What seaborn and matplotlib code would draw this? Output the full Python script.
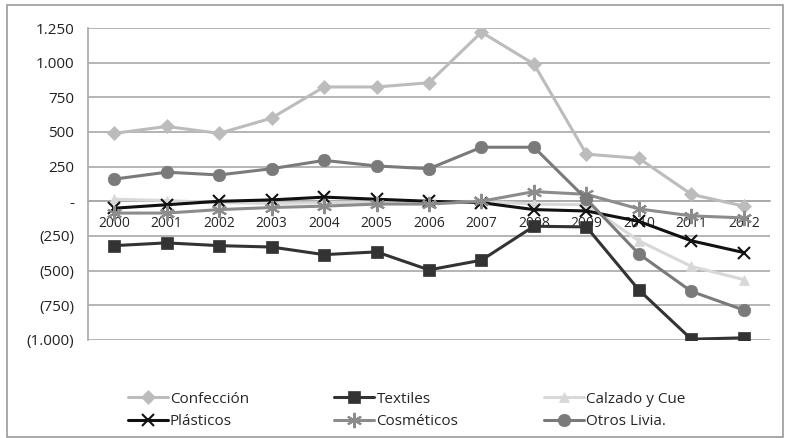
import numpy as np
import pandas as pd
import matplotlib
matplotlib.use('Agg')
import matplotlib.pyplot as plt
import seaborn as sns
from matplotlib.patches import Rectangle

years = list(range(2000, 2013))

confeccion = [490, 540, 490, 600, 825, 825, 855, 1220, 990, 340, 310, 50, -35]
textiles = [-320, -300, -320, -330, -385, -365, -495, -425, -180, -185, -640, -995, -985]
calzado = [15, 5, -10, -15, -10, -5, -5, 0, -20, -25, -285, -470, -565]
plasticos = [-50, -25, 0, 10, 30, 15, 0, -10, -60, -70, -145, -285, -370]
cosmeticos = [-85, -85, -60, -45, -35, -20, -20, 0, 70, 50, -55, -105, -120]
otros = [160, 210, 190, 235, 295, 255, 235, 390, 390, 15, -380, -650, -785]

series = [
    ('Confección', confeccion, '#bcbcbc', 'D', 7),
    ('Textiles', textiles, '#333333', 's', 8),
    ('Calzado y Cue', calzado, '#d8d8d8', '^', 7),
    ('Plásticos', plasticos, '#111111', 'x', 9),
    ('Cosméticos', cosmeticos, '#8c8c8c', (6, 2, 0), 11),
    ('Otros Livia.', otros, '#7a7a7a', 'o', 9),
]

yticks = [1250, 1000, 750, 500, 250, 0, -250, -500, -750, -1000]
ytick_labels = ['1.250', '1.000', '750', '500', '250', '-', '(250)', '(500)', '(750)', '(1.000)']

sns.set_style('white')
plt.rcParams['font.family'] = ['Open Sans', 'DejaVu Sans']

fig = plt.figure(figsize=(7.85, 4.38), dpi=100)
ax = fig.add_axes([0.112, 0.224, 0.869, 0.712])

for name, vals, color, marker, ms in series:
    df = pd.DataFrame({'year': years, 'value': vals})
    sns.lineplot(data=df, x='year', y='value', ax=ax, color=color, marker=marker,
                 markersize=ms, linewidth=2.2, label=name,
                 markeredgecolor=color, markeredgewidth=1.5 if marker in ('x', (6, 2, 0)) else 0.5,
                 zorder=3)

ax.set_xlim(1999.5, 2012.5)
ax.set_ylim(-1000, 1250)
ax.set_yticks(yticks)
ax.set_yticklabels(ytick_labels, fontsize=11, color='#222222')
ax.set_xticks(years)
ax.set_xticklabels([str(y) for y in years], fontsize=11, color='#222222')
ax.set_xticks(np.arange(1999.5, 2013, 1), minor=True)
ax.grid(axis='y', color='#a8a8a8', linewidth=1.2, zorder=0)
ax.grid(axis='x', visible=False)
ax.set_xlabel('')
ax.set_ylabel('')

for s in ['top', 'right']:
    ax.spines[s].set_visible(False)
ax.spines['left'].set_color('#a8a8a8')
ax.spines['left'].set_linewidth(1.2)
ax.spines['bottom'].set_position(('data', 0))
ax.spines['bottom'].set_color('#a8a8a8')
ax.spines['bottom'].set_linewidth(1.2)
ax.tick_params(axis='x', which='major', length=0, pad=10.5)
ax.tick_params(axis='x', which='minor', length=4, color='#a8a8a8', direction='out')
ax.tick_params(axis='y', length=4, color='#a8a8a8', pad=6)

handles, labels = ax.get_legend_handles_labels()
order = [0, 3, 1, 4, 2, 5]
ax.legend([handles[i] for i in order], [labels[i] for i in order],
          loc='upper left', bbox_to_anchor=(0.155, 0.12), bbox_transform=fig.transFigure,
          ncol=3, frameon=False, fontsize=11, handlelength=2.6, handletextpad=0.15,
          columnspacing=5.6, labelspacing=0.5, borderaxespad=0)

fig.patches.append(Rectangle((0.009, 0.003), 0.989, 0.986, transform=fig.transFigure,
                             fill=False, edgecolor='#9a9a9a', linewidth=1.2))

fig.savefig('out.png', dpi=100)
